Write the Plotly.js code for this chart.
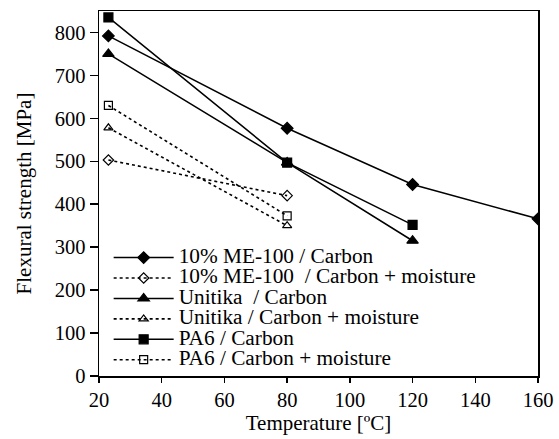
<!DOCTYPE html>
<html>
<head>
<meta charset="utf-8">
<script src="https://cdn.plot.ly/plotly-3.0.1.min.js"></script>
<style>html,body{margin:0;padding:0;background:#fff}</style>
</head>
<body>
<div id="chart" style="width:559px;height:439px"></div>
<script>
// Data
const meCarbonX = [23, 80, 120, 160];
const meCarbonY = [792, 577, 446, 366];
const meMoistX = [23, 80];
const meMoistY = [503, 420];
const uniCarbonX = [23, 80, 120];
const uniCarbonY = [750, 497, 315];
const uniMoistX = [23, 80];
const uniMoistY = [578, 350];
const paCarbonX = [23, 80, 120];
const paCarbonY = [835, 497, 352];
const paMoistX = [23, 80];
const paMoistY = [630, 373];

const names = [
  '10% ME-100 / Carbon',
  '10% ME-100  / Carbon + moisture',
  'Unitika  / Carbon',
  'Unitika / Carbon + moisture',
  'PA6 / Carbon',
  'PA6 / Carbon + moisture'
];

const FONT = 'Liberation Serif, Times New Roman, serif';
const big = t => '<span style="font-size:21.3px">' + t + '</span>';

function tr(x, y, name, symbol, size, dash) {
  return {
    x: x, y: y, name: big(name), type: 'scatter', mode: 'lines+markers',
    line: {color: '#000', width: dash === 'solid' ? 1.5 : 1.6, dash: dash},
    marker: {symbol: symbol, size: size, color: '#000', line: {color: '#000', width: 1.2}}
  };
}

const data = [
  tr(meCarbonX, meCarbonY, names[0], 'diamond', 9, 'solid'),
  tr(meMoistX, meMoistY, names[1], 'diamond-open', 8, 'dot'),
  tr(uniCarbonX, uniCarbonY, names[2], 'triangle-up', 10, 'solid'),
  tr(uniMoistX, uniMoistY, names[3], 'triangle-up-open', 8, 'dot'),
  tr(paCarbonX, paCarbonY, names[4], 'square', 9, 'solid'),
  tr(paMoistX, paMoistY, names[5], 'square-open', 8, 'dot')
];

const layout = {
  width: 559, height: 439,
  margin: {l: 99, r: 21, t: 11, b: 63},
  paper_bgcolor: '#fff', plot_bgcolor: '#fff',
  font: {family: FONT, color: '#000', size: 20.5},
  showlegend: true,
  legend: {
    x: 0.022, y: 0.366, xanchor: 'left', yanchor: 'top',
    bgcolor: 'rgba(255,255,255,0)', borderwidth: 0,
    font: {family: FONT, size: 13.4, color: '#000'},
    itemwidth: 60, tracegroupgap: 0
  },
  xaxis: {
    range: [20, 160], tick0: 20, dtick: 20, tickmode: 'linear',
    showgrid: false, zeroline: false,
    showline: true, linecolor: '#000', linewidth: 1.5, mirror: true,
    ticks: 'outside', ticklen: 5, tickwidth: 1.5, tickcolor: '#000',
    tickfont: {family: FONT, size: 20.5, color: '#000'},
    title: {text: 'Temperature [ºC]', font: {family: FONT, size: 21, color: '#000'}, standoff: 5}
  },
  yaxis: {
    range: [0, 850], tick0: 0, dtick: 100, tickmode: 'linear',
    showgrid: false, zeroline: false,
    showline: true, linecolor: '#000', linewidth: 1.5, mirror: true,
    ticks: 'outside', ticklen: 8, tickwidth: 1.5, tickcolor: '#000',
    tickfont: {family: FONT, size: 20.5, color: '#000'},
    title: {text: 'Flexural strength [MPa]', font: {family: FONT, size: 21, color: '#000'}, standoff: 17}
  }
};

Plotly.newPlot('chart', data, layout, {displayModeBar: false, staticPlot: true});
</script>
</body>
</html>
